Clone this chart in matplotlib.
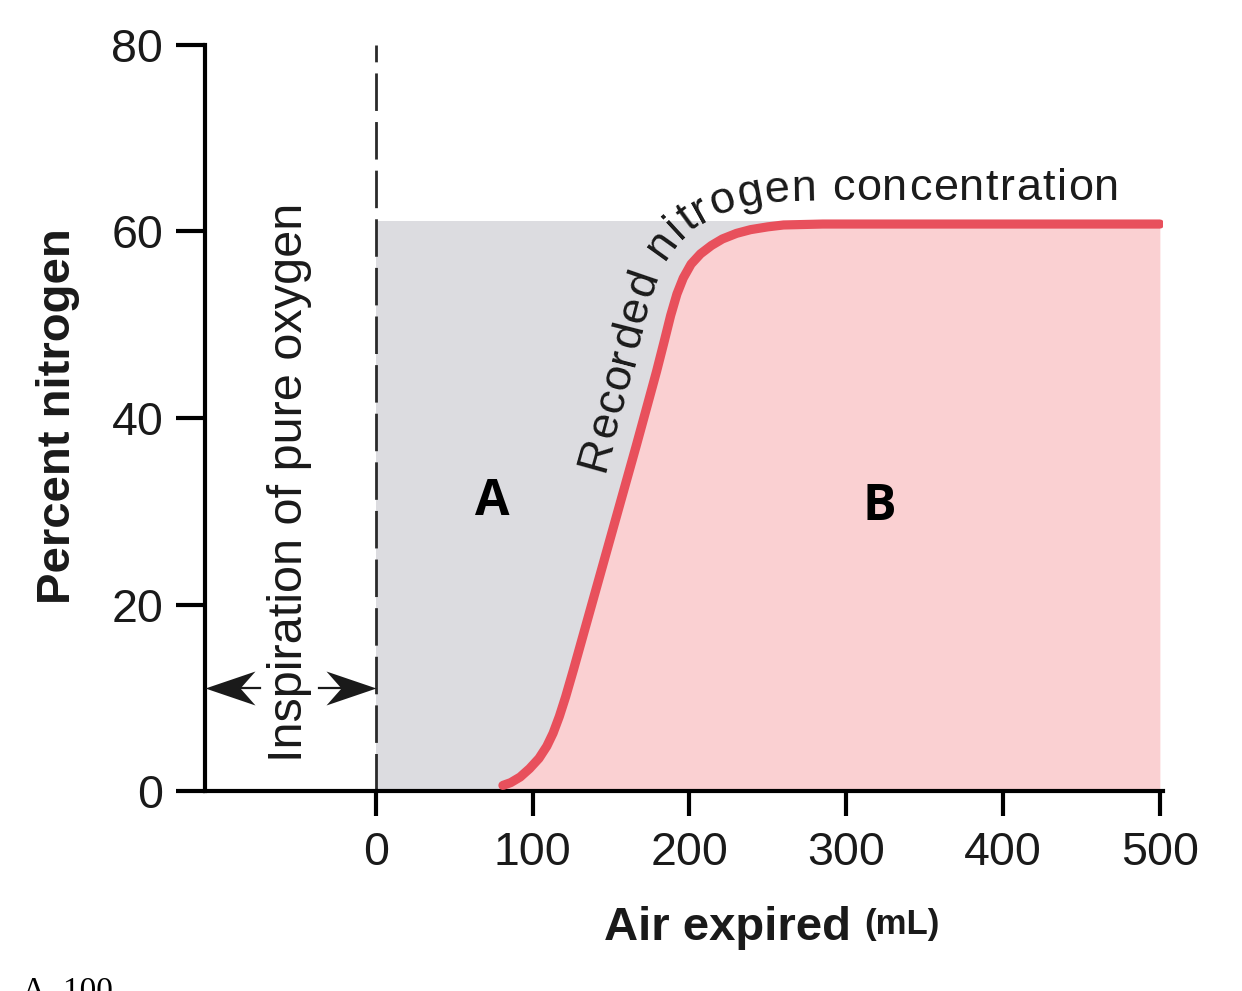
import numpy as np
import matplotlib
matplotlib.use("Agg")
import matplotlib.pyplot as plt
from matplotlib.path import Path
from matplotlib.font_manager import FontProperties
from matplotlib.transforms import IdentityTransform

# recorded nitrogen concentration during expiration
air_ml = [81, 86, 92, 98, 104, 109, 113, 117, 121, 126, 131, 141, 150, 158, 166,
          173, 179, 184, 188, 192, 196, 201, 207, 214, 221, 230, 239, 250, 260, 285, 500]
n2_pct = [0.6, 0.9, 1.5, 2.4, 3.5, 4.8, 6.2, 8.0, 10.1, 13.0, 16.0, 22.0, 27.4,
          32.2, 37.0, 41.3, 45.0, 48.3, 51.0, 53.3, 55.0, 56.5, 57.6, 58.5, 59.2, 59.8,
          60.2, 60.5, 60.7, 60.8, 60.8]
plateau = 61.1

x_ticks = [0, 100, 200, 300, 400, 500]
y_ticks = [0, 20, 40, 60, 80]

line_red = "#e8505c"
pink = "#fad0d2"
gray = "#dcdce0"
ink = "#1a1a1a"

plt.rcParams["font.family"] = ["Liberation Sans", "DejaVu Sans"]
plt.rcParams["lines.scale_dashes"] = False

W, H = 1242, 991
fig = plt.figure(figsize=(W / 100, H / 100), dpi=100)
ax = fig.add_axes([205 / W, 1 - 791 / H, 958 / W, 746 / H])
ax.set_xlim(-109, 502)
ax.set_ylim(0, 80)

# shaded areas
ax.fill_between([0, 500], 0, plateau, color=gray, lw=0, zorder=1)
ax.fill_between(air_ml, 0, n2_pct, color=pink, lw=0, zorder=1.5)
ax.plot(air_ml, n2_pct, color=line_red, lw=6.6, solid_capstyle="round",
        solid_joinstyle="round", zorder=3)

# start of expiration
ax.plot([0, 0], [0, 80], color="#2a2a2a", lw=2.0, dashes=(27, 8), zorder=2.5,
        clip_on=False)

# arrows for the inspiration phase
arrow_y = 11.0
head_l = Path([(0, 0), (1, 0.34), (0.7, 0), (1, -0.34), (0, 0)],
              [Path.MOVETO, Path.LINETO, Path.LINETO, Path.LINETO, Path.CLOSEPOLY])
head_r = Path([(0, 0), (-1, 0.34), (-0.7, 0), (-1, -0.34), (0, 0)],
              [Path.MOVETO, Path.LINETO, Path.LINETO, Path.LINETO, Path.CLOSEPOLY])
ax.plot([-74, -100], [arrow_y, arrow_y], color=ink, lw=1.6, clip_on=False, zorder=4)
ax.plot([-36, -6], [arrow_y, arrow_y], color=ink, lw=1.6, clip_on=False, zorder=4)
ax.plot([-109], [arrow_y], marker=head_l, ms=72, color=ink, mec="none",
        clip_on=False, zorder=4)
ax.plot([0], [arrow_y], marker=head_r, ms=72, color=ink, mec="none",
        clip_on=False, zorder=4)

ax.text(-47, 33.1, "Inspiration of pure oxygen", rotation=90, rotation_mode="anchor",
        ha="center", va="baseline", fontsize=35, color=ink)

ax.text(74, 31.0, "A", fontsize=36, weight="bold", family="Open Sans",
        ha="center", va="center", color="black")
ax.text(321, 30.5, "B", fontsize=36, weight="bold", family="Open Sans",
        ha="center", va="center", color="black")

# axes styling
for side in ["top", "right"]:
    ax.spines[side].set_visible(False)
for side in ["left", "bottom"]:
    ax.spines[side].set_linewidth(3)
    ax.spines[side].set_color("black")
ax.set_xticks(x_ticks)
ax.set_yticks(y_ticks)
ax.tick_params(axis="x", length=18, width=3, pad=11, labelsize=33.5, labelcolor=ink)
ax.tick_params(axis="y", length=21, width=3, pad=9, labelsize=33.5, labelcolor=ink)

fig.text(58 / W, 1 - 416 / H, "Percent nitrogen", rotation=90, ha="center",
         va="center", fontsize=34, weight="bold", color=ink)
fig.text(851 / W, (H - 940) / H, "Air expired", ha="right", va="baseline",
         fontsize=34, weight="bold", color=ink)
fig.text(864 / W, (H - 934) / H, "(mL)", ha="left", va="baseline",
         fontsize=25, weight="bold", color=ink)
fig.text(22 / W, (H - 1000) / H, "A. 100", ha="left", va="baseline",
         fontsize=24, family="Liberation Serif", color="black")

# curved label following the recorded line
label = "Recorded nitrogen concentration"
label_offset = 24      # px away from the line
label_start_y = 34.0   # where the label begins along the line
tracking = 1.4         # extra px between letters
fp = FontProperties(family="Liberation Sans", size=32.5)

renderer = fig.canvas.get_renderer()
pts = ax.transData.transform(np.column_stack([air_ml, n2_pct]))
seg = np.diff(pts, axis=0)
seg = seg / np.hypot(seg[:, 0], seg[:, 1])[:, None]
tang = np.vstack([seg[:1], seg[:-1] + seg[1:], seg[-1:]])
tang = tang / np.hypot(tang[:, 0], tang[:, 1])[:, None]
norm = np.column_stack([-tang[:, 1], tang[:, 0]])
off = pts + label_offset * norm
arc = np.concatenate([[0], np.cumsum(np.hypot(*np.diff(off, axis=0).T))])
s_fine = np.arange(0, arc[-1], 1.0)
px = np.interp(s_fine, arc, off[:, 0])
py = np.interp(s_fine, arc, off[:, 1])
k = 16
ang = np.degrees(np.arctan2(np.roll(py, -k) - np.roll(py, k),
                            np.roll(px, -k) - np.roll(px, k)))
ang[:k] = ang[k]
ang[-k:] = ang[-k - 1]

y_start_px = ax.transData.transform((0, label_start_y))[1]
i0 = np.argmax(py >= y_start_px)
s0 = s_fine[i0]

wx = renderer.get_text_width_height_descent("x", fp, ismath=False)[0]


def adv(s):
    return renderer.get_text_width_height_descent(s + "x", fp, ismath=False)[0] - wx


for i, ch in enumerate(label):
    if ch == " ":
        continue
    a, b = adv(label[:i]), adv(label[:i + 1])
    mid = s0 + 0.5 * (a + b) + tracking * i
    j = min(int(round(mid)), len(s_fine) - 1)
    fig.text(px[j], py[j], ch, fontproperties=fp, color=ink, ha="center",
             va="baseline", rotation=ang[j], rotation_mode="anchor",
             transform=IdentityTransform())

fig.savefig("out.png", dpi=100)
plt.close("all")
